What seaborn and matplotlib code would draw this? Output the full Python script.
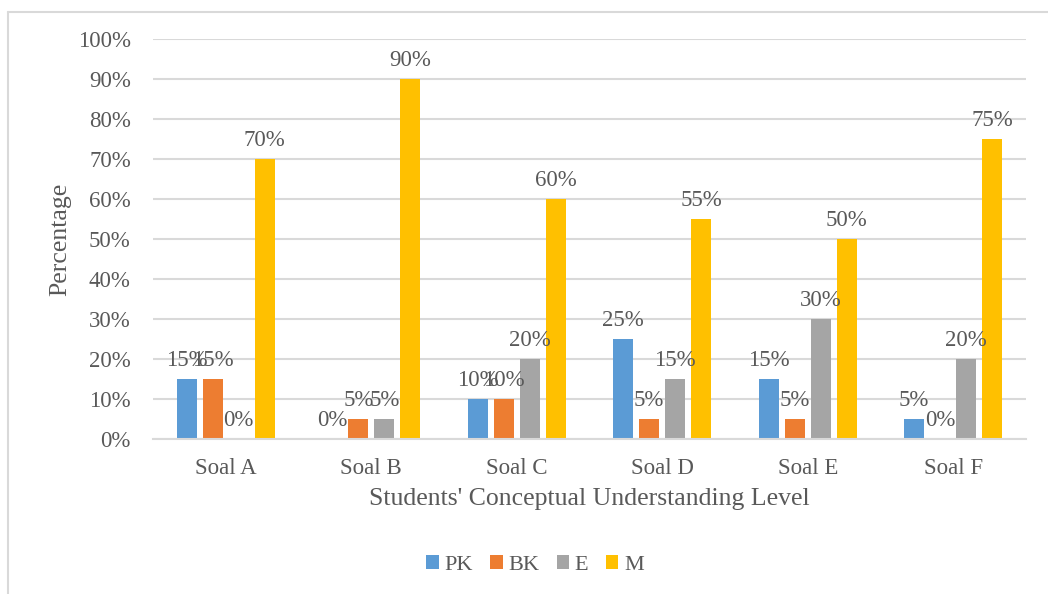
import pandas as pd
import matplotlib.pyplot as plt
import seaborn as sns
from matplotlib.lines import Line2D

questions = ['Soal A', 'Soal B', 'Soal C', 'Soal D', 'Soal E', 'Soal F']
levels = ['PK', 'BK', 'E', 'M']
pk = [15, 0, 10, 25, 15, 5]
bk = [15, 5, 10, 5, 5, 0]
e = [0, 5, 20, 15, 30, 20]
m = [70, 90, 60, 55, 50, 75]
colors = ['#5B9BD5', '#ED7D31', '#A5A5A5', '#FFC000']

rows = []
for lvl, vals in zip(levels, [pk, bk, e, m]):
    for q, v in zip(questions, vals):
        rows.append({'Soal': q, 'Level': lvl, 'Value': v})
df = pd.DataFrame(rows)

sns.set_style('white')
plt.rcParams['font.family'] = ['Liberation Serif', 'DejaVu Serif']
text_col = '#595959'
grid_col = '#D9D9D9'

fig = plt.figure(figsize=(10.48, 5.94), dpi=100)
ax = fig.add_axes([0.146, 0.261, 0.833, 0.673])

sns.barplot(data=df, x='Soal', y='Value', hue='Level', palette=colors,
            width=0.715, gap=0.23, saturation=1, linewidth=0, ax=ax, legend=True)

for cont in ax.containers:
    ax.bar_label(cont, fmt='{:.0f}%', padding=6, fontsize=16.5, color=text_col)

ax.set_ylim(0, 100)
ax.set_yticks(range(0, 101, 10))
ax.set_yticklabels([f'{v}%' for v in range(0, 101, 10)])
ax.yaxis.grid(True, color=grid_col, linewidth=1.5)
ax.set_axisbelow(True)
ax.tick_params(axis='both', length=0, labelsize=16.5, labelcolor=text_col)
ax.tick_params(axis='x', pad=14)
ax.tick_params(axis='y', pad=16)
for s in ['top', 'right', 'left']:
    ax.spines[s].set_visible(False)
ax.spines['bottom'].set_color(grid_col)
ax.spines['bottom'].set_linewidth(1.5)

ax.set_xlabel("Students' Conceptual Understanding Level", fontsize=18.5, color=text_col, labelpad=6)
ax.set_ylabel('Percentage', fontsize=18.5, color=text_col, labelpad=5)

ax.legend_.remove()
handles, labels = ax.get_legend_handles_labels()
fig.legend(handles, labels, loc='center', bbox_to_anchor=(535 / 1048, 1 - 565 / 594),
           ncol=4, frameon=False, fontsize=16, labelcolor=text_col,
           handlelength=0.55, handleheight=0.55, handletextpad=0.25, columnspacing=0.8)

# chart area frame (left and top edges visible)
fig.add_artist(Line2D([8 / 1048, 8 / 1048], [0, 1 - 12 / 594], transform=fig.transFigure,
                      color=grid_col, linewidth=1.5))
fig.add_artist(Line2D([8 / 1048, 1], [1 - 12 / 594, 1 - 12 / 594], transform=fig.transFigure,
                      color=grid_col, linewidth=1.5))

fig.savefig('out.png', dpi=100)
